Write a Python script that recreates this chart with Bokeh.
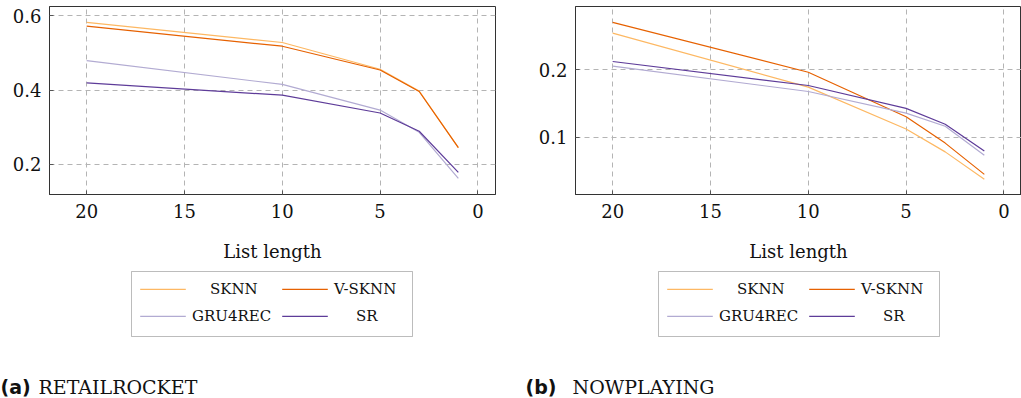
from bokeh.plotting import figure
from bokeh.layouts import row, column
from bokeh.models import Range1d, FixedTicker, Legend, LegendItem, Label, BoxAnnotation
from bokeh.embed import file_html
from bokeh.resources import INLINE

list_len = [20, 10, 5, 3, 1]
series_names = ["SKNN", "V-SKNN", "GRU4REC", "SR"]
colors = ["#fdb863", "#e66101", "#b2abd2", "#5e3c99"]

# (a) RETAILROCKET
rr_sknn = [0.582, 0.528, 0.456, 0.397, 0.245]
rr_vsknn = [0.572, 0.518, 0.454, 0.396, 0.245]
rr_gru = [0.479, 0.415, 0.346, 0.286, 0.162]
rr_sr = [0.419, 0.386, 0.338, 0.289, 0.178]

# (b) NOWPLAYING
np_sknn = [0.254, 0.174, 0.112, 0.078, 0.0375]
np_vsknn = [0.270, 0.196, 0.130, 0.091, 0.0446]
np_gru = [0.205, 0.1675, 0.1355, 0.116, 0.073]
np_sr = [0.212, 0.1764, 0.1424, 0.119, 0.0793]

x_ticks = [0, 5, 10, 15, 20]
rr_y_ticks = [0.2, 0.4, 0.6]
np_y_ticks = [0.1, 0.2]

SERIF = "DejaVu Serif"
X0 = -1000  # legend panel data origin (keeps the swatch renderers out of view)
TOP_H = 264
BOT_H = 398 - TOP_H


def make_plot(series, y_range, y_ticks, width, border_left, border_right):
    p = figure(width=width, height=TOP_H, output_backend="svg", toolbar_location=None,
               x_range=Range1d(21.9, -0.9), y_range=y_range,
               min_border_left=border_left, min_border_right=border_right,
               min_border_top=6, min_border_bottom=TOP_H - 196)
    p.outline_line_color = "#333333"
    p.outline_line_width = 1
    p.xaxis.ticker = FixedTicker(ticks=x_ticks)
    p.yaxis.ticker = FixedTicker(ticks=y_ticks)
    for ax in (p.xaxis[0], p.yaxis[0]):
        ax.axis_line_color = "#333333"
        ax.major_tick_in = 4
        ax.major_tick_out = 0
        ax.major_tick_line_color = "#555555"
        ax.minor_tick_line_color = None
        ax.major_label_text_font = SERIF
        ax.major_label_text_font_size = "18px"
        ax.major_label_text_color = "#111111"
    p.xaxis.major_label_standoff = 9
    p.yaxis.major_label_standoff = 8
    p.xaxis.axis_label = "List length"
    p.xaxis.axis_label_text_font = SERIF
    p.xaxis.axis_label_text_font_style = "normal"
    p.xaxis.axis_label_text_font_size = "18px"
    p.xaxis.axis_label_text_color = "#111111"
    p.xaxis.axis_label_standoff = 20
    p.xgrid.ticker = FixedTicker(ticks=x_ticks)
    p.ygrid.ticker = FixedTicker(ticks=y_ticks)
    for g in (p.xgrid[0], p.ygrid[0]):
        g.grid_line_color = "#b4b4b4"
        g.grid_line_dash = "5 4"
        g.grid_line_width = 1
    for ys, c in zip(series, colors):
        p.line(list_len, ys, line_color=c, line_width=1.2)
    return p


# legend entry layout (pixels from the panel's left / top edge)
entry_x = [134, 276, 134, 276]
entry_cy = [25, 25, 52, 52]
entry_standoff = [19, 1, 1, 23]


def make_legend_panel(series, width, dx, tag, tag_x, text, text_x):
    q = figure(width=width, height=BOT_H, output_backend="svg", toolbar_location=None,
               x_range=Range1d(X0, X0 + width), y_range=Range1d(0, BOT_H),
               min_border=0, x_axis_type=None, y_axis_type=None)
    q.outline_line_color = None
    q.xgrid.visible = False
    q.ygrid.visible = False
    q.add_layout(BoxAnnotation(left=X0 + 131 + dx, right=X0 + 412 + dx,
                               top=BOT_H - 7, bottom=BOT_H - 72,
                               fill_color=None, line_color="#222222", line_width=1))
    for i, (name, ys, c) in enumerate(zip(series_names, series, colors)):
        # thin bar swatch; its data lies outside this panel's view
        r = q.hbar(y=ys, right=list_len, left=0, height=0.005, fill_color=c, line_color=None)
        leg = Legend(items=[LegendItem(label=name, renderers=[r])],
                     location=(entry_x[i] + dx, BOT_H - (entry_cy[i] + 10)),
                     glyph_width=57, glyph_height=2, label_height=20, label_width=0,
                     label_standoff=entry_standoff[i], padding=0, margin=0, spacing=0,
                     label_text_font=SERIF, label_text_font_size="15px",
                     label_text_color="#111111",
                     border_line_color=None, background_fill_alpha=0.0)
        q.add_layout(leg, "center")
    for t, x, font, style in ((tag, tag_x, "DejaVu Sans", "bold"), (text, text_x, SERIF, "normal")):
        q.add_layout(Label(x=x, y=BOT_H - 122, x_units="screen", y_units="screen",
                           text=t, text_font=font, text_font_style=style,
                           text_font_size="19px", text_color="#111111",
                           text_baseline="alphabetic"))
    return q


rr_series = [rr_sknn, rr_vsknn, rr_gru, rr_sr]
np_series = [np_sknn, np_vsknn, np_gru, np_sr]

p1 = make_plot(rr_series, Range1d(0.1185, 0.625), rr_y_ticks, 510, 49, 15)
p2 = make_plot(np_series, Range1d(0.0148, 0.2935), np_y_ticks, 511, 65, 0)
l1 = make_legend_panel(rr_series, 510, 0, "(a)", 0, "RETAILROCKET", 38)
l2 = make_legend_panel(np_series, 511, 17, "(b)", 15, "NOWPLAYING", 62)

layout = column(row(p1, p2), row(l1, l2))
open("out.html", "w").write(file_html(layout, INLINE))
